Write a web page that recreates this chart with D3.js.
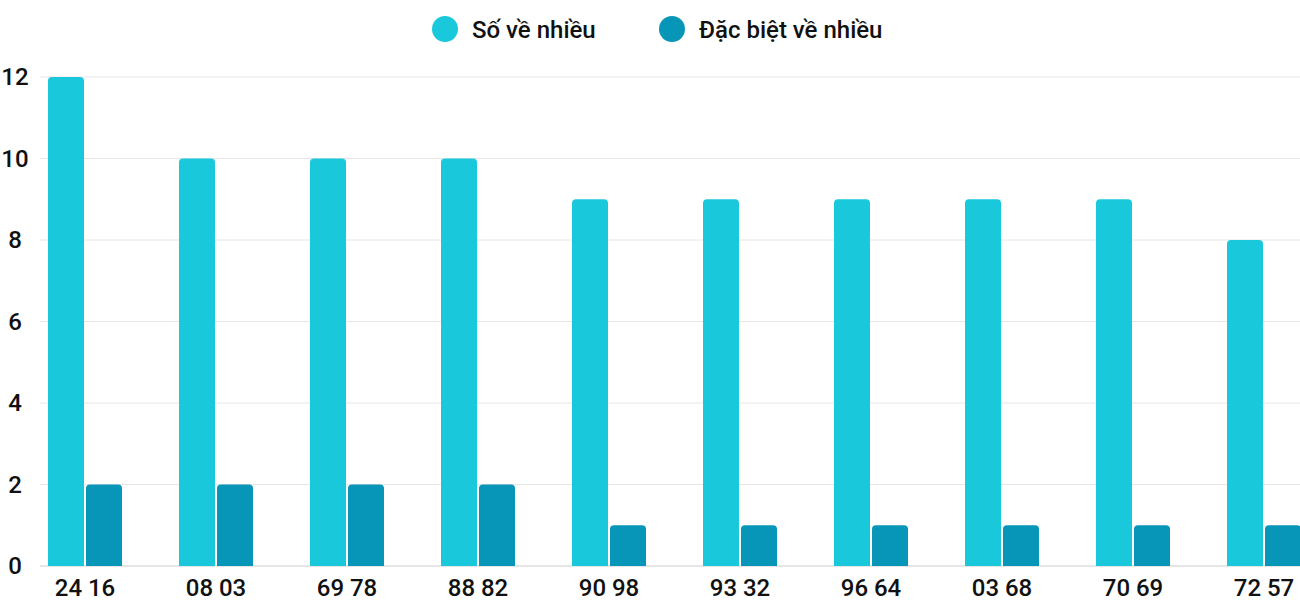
<!DOCTYPE html>
<html><head><meta charset="utf-8">
<script src="https://cdn.jsdelivr.net/npm/d3@7"></script>
<style>body{margin:0;background:#fff;font-family:Roboto,sans-serif;}</style>
</head><body>
<script>
var categories = ["24 16","08 03","69 78","88 82","90 98","93 32","96 64","03 68","70 69","72 57"];
var soVeNhieu = [12,10,10,10,9,9,9,9,9,8];
var dacBiet = [2,2,2,2,1,1,1,1,1,1];
var seriesNames = ["Số về nhiều","Đặc biệt về nhiều"];
var colors = ["#1ac8db","#0795b8"];
var yTicks = [0,2,4,6,8,10,12];

var svg = d3.select("body").append("svg").attr("width",1300).attr("height",600);
var y = d3.scaleLinear().domain([0,12]).range([566,77]);
var x = d3.scaleBand().domain(categories).range([20,1330]);

svg.selectAll("line.grid").data(yTicks).enter().append("line")
  .attr("x1",40).attr("x2",1300).attr("y1",function(d){return y(d);}).attr("y2",function(d){return y(d);})
  .attr("stroke",function(d){return d==0?"#ccc":"#e6e6e6";}).attr("stroke-width",1);
svg.selectAll("text.yl").data(yTicks).enter().append("text")
  .attr("x",15).attr("y",function(d){return y(d)+8;}).attr("text-anchor","middle")
  .attr("font-size",24).attr("font-weight",500).attr("fill","#111").text(function(d){return d;});

function bar(x0,w,v){
  var t=y(v),b=y(0),r=4;
  return "M"+x0+","+b+"V"+(t+r)+"Q"+x0+","+t+" "+(x0+r)+","+t+"H"+(x0+w-r)+"Q"+(x0+w)+","+t+" "+(x0+w)+","+(t+r)+"V"+b+"Z";
}
[soVeNhieu,dacBiet].forEach(function(s,k){
  svg.selectAll("path.s"+k).data(s).enter().append("path")
    .attr("fill",colors[k])
    .attr("d",function(d,i){return bar(x(categories[i])+28+k*38,36,d);});
});
svg.selectAll("text.xl").data(categories).enter().append("text")
  .attr("x",function(d){return x(d)+65;}).attr("y",596).attr("text-anchor","middle")
  .attr("font-size",24).attr("font-weight",500).attr("fill","#111").text(function(d){return d;});

var lx=[445,672];
seriesNames.forEach(function(n,k){
  svg.append("circle").attr("cx",lx[k]).attr("cy",29).attr("r",13).attr("fill",colors[k]);
  svg.append("text").attr("x",lx[k]+27).attr("y",38).attr("font-size",24).attr("font-weight",500).attr("fill","#111").text(n);
});
</script>
</body></html>
